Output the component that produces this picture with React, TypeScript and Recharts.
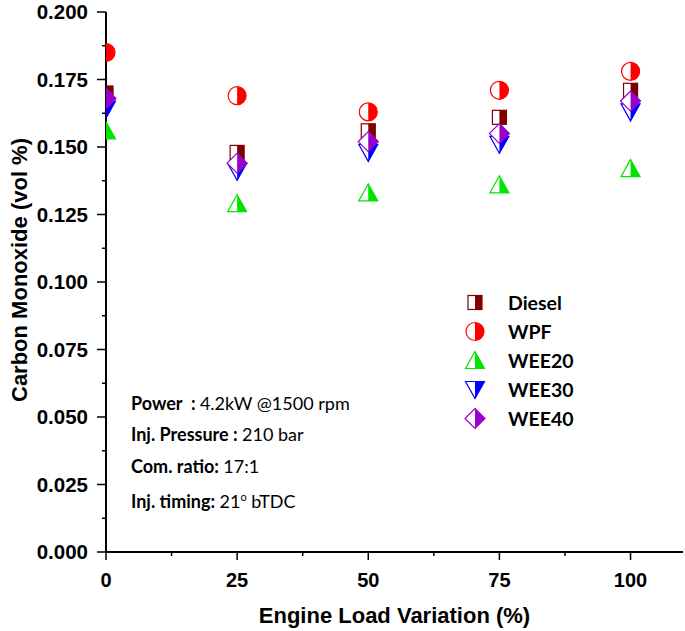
import React from "react";
import { ScatterChart, Scatter, XAxis, YAxis } from "recharts";

const loads = [0, 25, 50, 75, 100];
const diesel = [0.17, 0.148, 0.156, 0.161, 0.171];
const wpf = [0.185, 0.169, 0.163, 0.171, 0.178];
const wee20 = [0.156, 0.129, 0.133, 0.136, 0.142];
const wee30 = [0.164, 0.141, 0.148, 0.151, 0.163];
const wee40 = [0.168, 0.144, 0.152, 0.155, 0.167];

const xTicks = [0, 12.5, 25, 37.5, 50, 62.5, 75, 87.5, 100];
const xMajor = [0, 25, 50, 75, 100];
const yTicks = [
  0, 0.0125, 0.025, 0.0375, 0.05, 0.0625, 0.075, 0.0875, 0.1, 0.1125, 0.125, 0.1375, 0.15, 0.1625, 0.175,
  0.1875, 0.2,
];
const yMajor = [0, 0.025, 0.05, 0.075, 0.1, 0.125, 0.15, 0.175, 0.2];

const notes = [
  { label: "Power  : ", value: "4.2kW @1500 rpm" },
  { label: "Inj. Pressure : ", value: "210 bar" },
  { label: "Com. ratio: ", value: "17:1" },
  { label: "Inj. timing: ", value: "21", sup: "o", after: " bTDC" },
];

type Shape = "square" | "circle" | "up" | "down" | "diamond";

const series: { name: string; values: number[]; color: string; shape: Shape }[] = [
  { name: "Diesel", values: diesel, color: "#800000", shape: "square" },
  { name: "WPF", values: wpf, color: "#ff0000", shape: "circle" },
  { name: "WEE20", values: wee20, color: "#00e400", shape: "up" },
  { name: "WEE30", values: wee30, color: "#0000ff", shape: "down" },
  { name: "WEE40", values: wee40, color: "#9900cc", shape: "diamond" },
];

const AXIS_FONT = "'Liberation Sans', Arial, sans-serif";
const TEXT_FONT = "Lato, 'Open Sans', sans-serif";

function Marker({ cx, cy, color, shape }: { cx: number; cy: number; color: string; shape: Shape }) {
  const sw = 1.2;
  if (shape === "square") {
    return (
      <g>
        <rect x={cx - 7} y={cy - 7} width={14} height={14} fill="#fff" stroke={color} strokeWidth={sw} />
        <rect x={cx} y={cy - 7} width={7} height={14} fill={color} />
      </g>
    );
  }
  if (shape === "circle") {
    const r = 9;
    return (
      <g>
        <circle cx={cx} cy={cy} r={r} fill="#fff" stroke={color} strokeWidth={sw} />
        <path d={`M${cx},${cy - r} A${r},${r} 0 0 1 ${cx},${cy + r} Z`} fill={color} />
      </g>
    );
  }
  if (shape === "up") {
    return (
      <g>
        <polygon points={`${cx},${cy - 9} ${cx + 9.5},${cy + 8} ${cx - 9.5},${cy + 8}`} fill="#fff" stroke={color} strokeWidth={sw} />
        <polygon points={`${cx},${cy - 9} ${cx + 9.5},${cy + 8} ${cx},${cy + 8}`} fill={color} />
      </g>
    );
  }
  if (shape === "down") {
    return (
      <g>
        <polygon points={`${cx - 9.5},${cy - 8} ${cx + 9.5},${cy - 8} ${cx},${cy + 9}`} fill="#fff" stroke={color} strokeWidth={sw} />
        <polygon points={`${cx},${cy - 8} ${cx + 9.5},${cy - 8} ${cx},${cy + 9}`} fill={color} />
      </g>
    );
  }
  return (
    <g>
      <polygon points={`${cx},${cy - 10} ${cx + 10},${cy} ${cx},${cy + 10} ${cx - 10},${cy}`} fill="#fff" stroke={color} strokeWidth={sw} />
      <polygon points={`${cx},${cy - 10} ${cx + 10},${cy} ${cx},${cy + 10}`} fill={color} />
    </g>
  );
}

function YTick(props: any) {
  const { x, y, payload } = props;
  const major = yMajor.some((m) => Math.abs(m - payload.value) < 1e-9);
  return (
    <g>
      <line x1={x - (major ? 9 : 4)} x2={x} y1={y} y2={y} stroke="#000" strokeWidth={1.5} />
      {major && (
        <text x={x - 18} y={y + 7} textAnchor="end" fontFamily={AXIS_FONT} fontWeight="bold" fontSize={20.5} fill="#000">
          {payload.value.toFixed(3)}
        </text>
      )}
    </g>
  );
}

function XTick(props: any) {
  const { x, y, payload } = props;
  const major = xMajor.includes(payload.value);
  return (
    <g>
      <line x1={x} x2={x} y1={y} y2={y + (major ? 8 : 4)} stroke="#000" strokeWidth={1.5} />
      {major && (
        <text x={x} y={y + 35} textAnchor="middle" fontFamily={AXIS_FONT} fontWeight="bold" fontSize={20} fill="#000">
          {payload.value}
        </text>
      )}
    </g>
  );
}

function YLabel(props: any) {
  const vb = props.viewBox || { x: 0, y: 12, width: 106, height: 540 };
  const x = vb.x + 27;
  const y = vb.y + vb.height / 2 - 12;
  return (
    <text
      x={x}
      y={y}
      transform={`rotate(-90, ${x}, ${y})`}
      textAnchor="middle"
      fontFamily={AXIS_FONT}
      fontWeight="bold"
      fontSize={22}
      fill="#000"
    >
      Carbon Monoxide (vol %)
    </text>
  );
}

function LegendBox() {
  return (
    <div style={{ position: "absolute", left: 460, top: 288 }}>
      {series.map((s) => (
        <div key={s.name} style={{ display: "flex", alignItems: "center", height: 29 }}>
          <svg width={30} height={29}>
            <Marker cx={15} cy={14.5} color={s.color} shape={s.shape} />
          </svg>
          <span style={{ marginLeft: 18, fontFamily: TEXT_FONT, fontWeight: "bold", fontSize: 19.5, color: "#000" }}>
            {s.name}
          </span>
        </div>
      ))}
    </div>
  );
}

export default function App() {
  return (
    <div style={{ position: "absolute", left: 0, top: 0, width: 685, height: 631, background: "#fff" }}>
      <ScatterChart width={685} height={631} margin={{ top: 12, right: 2, bottom: 0, left: 0 }}>
        <XAxis
          type="number"
          dataKey="x"
          domain={[0, 110]}
          ticks={xTicks}
          allowDataOverflow
          interval={0}
          height={79}
          tickSize={0}
          tickMargin={0}
          tickLine={false}
          tick={<XTick />}
          axisLine={{ stroke: "#000", strokeWidth: 2 }}
          label={{
            value: "Engine Load Variation (%)",
            position: "insideBottom",
            offset: 8,
            style: { fontFamily: AXIS_FONT, fontWeight: "bold", fontSize: 22, fill: "#000" },
          }}
        />
        <YAxis
          type="number"
          dataKey="y"
          domain={[0, 0.2]}
          ticks={yTicks}
          interval={0}
          width={106}
          tickSize={0}
          tickMargin={0}
          tickLine={false}
          tick={<YTick />}
          axisLine={{ stroke: "#000", strokeWidth: 2 }}
          label={<YLabel />}
        />
        {series.map((s) => (
          <Scatter
            key={s.name}
            name={s.name}
            data={loads.map((x, i) => ({ x, y: s.values[i] }))}
            fill={s.color}
            isAnimationActive={false}
            shape={(p: any) => <Marker cx={p.cx} cy={p.cy} color={s.color} shape={s.shape} />}
          />
        ))}
      </ScatterChart>
      <LegendBox />
      <div style={{ position: "absolute", left: 131, top: 391, fontFamily: TEXT_FONT, fontSize: 18, color: "#000" }}>
        {notes.map((n) => (
          <div key={n.label} style={{ height: 31.3, lineHeight: "24px", whiteSpace: "pre" }}>
            <b>{n.label}</b>
            {n.value}
            {n.sup && <sup style={{ fontSize: 11 }}>{n.sup}</sup>}
            {n.after}
          </div>
        ))}
      </div>
    </div>
  );
}
